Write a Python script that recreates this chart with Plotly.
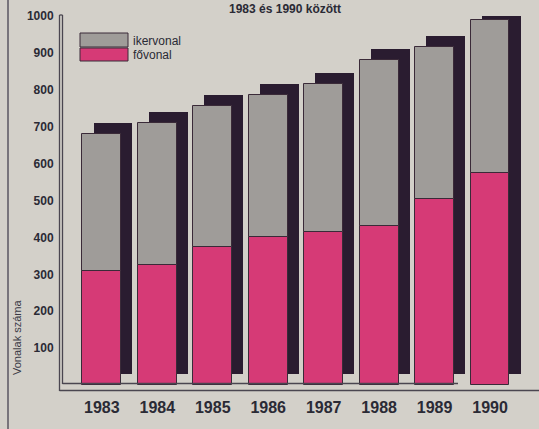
import plotly.graph_objects as go

years = ["1983", "1984", "1985", "1986", "1987", "1988", "1989", "1990"]
fovonal = [310, 325, 375, 400, 415, 430, 505, 575]
total = [680, 710, 755, 785, 815, 880, 915, 990]
ikervonal = [t - f for t, f in zip(total, fovonal)]
yticks = [100, 200, 300, 400, 500, 600, 700, 800, 900, 1000]

W, H = 539, 429
L, R, T, B = 63, 9, 16, 44
PW, PH = W - L - R, H - T - B

def px(xp):
    return (xp - L) / PW

def py(yp):
    return (H - B - yp) / PH

BG = "#d3d0c9"
GRAY = "#9f9c99"
PINK = "#d63a76"
SHADOW = "#2a1c30"
EDGE = "#3a2a38"
FONT = "Liberation Sans Narrow, Arial Narrow, Liberation Sans, sans-serif"

xs = list(range(len(years)))
shift_x = 0.2
shift_y = 30
bw = 0.70

fig = go.Figure()
fig.add_trace(go.Bar(x=[i + shift_x for i in xs], y=total, base=[shift_y] * len(xs), width=bw,
                     marker=dict(color=SHADOW, line=dict(width=0)), showlegend=False, hoverinfo="skip"))
fig.add_trace(go.Bar(x=xs, y=fovonal, width=bw, name="fővonal",
                     marker=dict(color=PINK, line=dict(color=EDGE, width=1)), showlegend=False))
fig.add_trace(go.Bar(x=xs, y=ikervonal, base=fovonal, width=bw, name="ikervonal",
                     marker=dict(color=GRAY, line=dict(color=EDGE, width=1)), showlegend=False))

shapes = []
line_col = "#4a4650"
# left double axis line
for xp in (59.5, 62.5):
    shapes.append(dict(type="line", xref="paper", yref="paper", x0=px(xp), x1=px(xp),
                       y0=py(15), y1=py(391 if xp < 60 else 384), line=dict(color=line_col, width=1.3)))
shapes.append(dict(type="line", xref="paper", yref="paper", x0=px(59.5), x1=px(62.5),
                   y0=py(15), y1=py(15), line=dict(color=line_col, width=1.3)))
# bottom double lines
shapes.append(dict(type="line", xref="paper", yref="paper", x0=px(62.5), x1=px(458),
                   y0=py(383.5), y1=py(383.5), line=dict(color=line_col, width=1.3)))
shapes.append(dict(type="line", xref="paper", yref="paper", x0=px(59.5), x1=px(539),
                   y0=py(390.5), y1=py(390.5), line=dict(color=line_col, width=1.3)))
# outer page border line
shapes.append(dict(type="line", xref="paper", yref="paper", x0=px(8), x1=px(8),
                   y0=py(0), y1=py(429), line=dict(color="#5a5660", width=1.5)))
# legend swatches
shapes.append(dict(type="rect", xref="paper", yref="paper", x0=px(80), x1=px(128),
                   y0=py(33), y1=py(47), fillcolor=GRAY, line=dict(color=EDGE, width=1)))
shapes.append(dict(type="rect", xref="paper", yref="paper", x0=px(80), x1=px(128),
                   y0=py(48), y1=py(61), fillcolor=PINK, line=dict(color=EDGE, width=1)))

annotations = [
    dict(text="ikervonal", xref="paper", yref="paper", x=px(131), y=py(41), xanchor="left",
         yanchor="middle", showarrow=False, font=dict(family=FONT, size=12, color="#2a2a35")),
    dict(text="fővonal", xref="paper", yref="paper", x=px(131), y=py(55), xanchor="left",
         yanchor="middle", showarrow=False, font=dict(family=FONT, size=12, color="#2a2a35")),
    dict(text="Vonalak száma", xref="paper", yref="paper", x=px(17), y=py(338), xanchor="center",
         yanchor="middle", textangle=-90, showarrow=False, font=dict(family=FONT, size=11, color="#3a3a45")),
    dict(text="<b>1983 és 1990 között</b>", xref="paper", yref="paper", x=px(285), y=py(0),
         xanchor="center", yanchor="top", showarrow=False, font=dict(family=FONT, size=12, color="#2a2a35")),
]

fig.update_layout(
    width=W, height=H,
    margin=dict(l=L, r=R, t=T, b=B, pad=0, autoexpand=False),
    paper_bgcolor=BG, plot_bgcolor=BG,
    barmode="overlay", bargap=0,
    showlegend=False,
    shapes=shapes, annotations=annotations,
    xaxis=dict(range=[-0.70, 7.72], tickmode="array", tickvals=xs, ticktext=["<b>%s</b>" % y for y in years],
               showgrid=False, zeroline=False, showline=False, ticks="outside", ticklen=8, automargin=False,
               tickcolor="rgba(0,0,0,0)", tickfont=dict(family=FONT, size=16, color="#2a2a35"), fixedrange=True),
    yaxis=dict(range=[0, 1000], tickmode="array", tickvals=yticks, ticktext=["<b>%d</b>" % v for v in yticks],
               showgrid=False, zeroline=False, showline=False, ticks="outside", ticklen=6, automargin=False,
               tickcolor="rgba(0,0,0,0)", tickfont=dict(family=FONT, size=12, color="#2a2a35"), fixedrange=True),
)

fig.write_html("out.html", config={"displayModeBar": False},
               post_script="document.body.style.margin='0';document.body.style.padding='0';")
